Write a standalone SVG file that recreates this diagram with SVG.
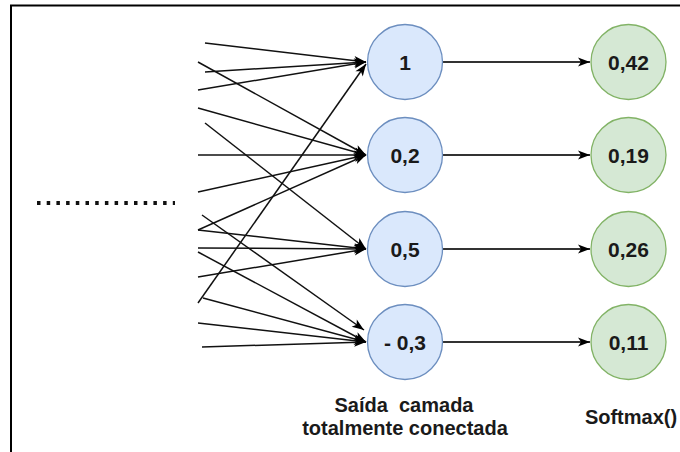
<svg xmlns="http://www.w3.org/2000/svg" width="680" height="452" viewBox="0 0 680 452">
<defs>
<style>
.in{stroke:#111;stroke-width:1.5;fill:none;marker-end:url(#a)}
.out{stroke:#333;stroke-width:1.8;fill:none;marker-end:url(#a)}
.b{fill:#dae8fc;stroke:#6c8ebf;stroke-width:1.3}
.g{fill:#d5e8d4;stroke:#82b366;stroke-width:1.3}
.t{font-family:"Liberation Sans",Arial,sans-serif;font-weight:bold;font-size:21px;fill:#1a1a1a;text-anchor:middle}
.l{font-family:"Liberation Sans",Arial,sans-serif;font-weight:bold;font-size:20px;fill:#1a1a1a;text-anchor:middle}
</style>
<marker id="a" markerUnits="userSpaceOnUse" markerWidth="14" markerHeight="12" viewBox="0 0 14 12" refX="13" refY="6" orient="auto">
<path d="M13,6 L1,1.5 L4,6 L1,10.5 Z" fill="#000"/>
</marker>
</defs>
<rect width="680" height="452" fill="#fff"/>
<path d="M11,452 V5.5 H680" fill="none" stroke="#000" stroke-width="2"/>
<line x1="37" y1="203" x2="175" y2="203" stroke="#111" stroke-width="4" stroke-dasharray="3.5 6.2"/>
<g id="connectors">
<line class="in" x1="205" y1="43" x2="366" y2="62"/>
<line class="in" x1="205" y1="72" x2="366" y2="62"/>
<line class="in" x1="198" y1="90" x2="366" y2="62"/>
<line class="in" x1="198" y1="303" x2="366" y2="64"/>
<line class="in" x1="198" y1="62" x2="366" y2="155"/>
<line class="in" x1="198" y1="108" x2="366" y2="155"/>
<line class="in" x1="198" y1="155" x2="366" y2="155"/>
<line class="in" x1="198" y1="192" x2="366" y2="155"/>
<line class="in" x1="198" y1="230" x2="366" y2="155"/>
<line class="in" x1="205" y1="123" x2="366" y2="249"/>
<line class="in" x1="198" y1="230" x2="366" y2="249"/>
<line class="in" x1="198" y1="248" x2="366" y2="249"/>
<line class="in" x1="198" y1="277" x2="366" y2="249"/>
<line class="in" x1="202" y1="215" x2="364" y2="330"/>
<line class="in" x1="198" y1="252" x2="366" y2="342"/>
<line class="in" x1="203" y1="298" x2="366" y2="342"/>
<line class="in" x1="198" y1="323" x2="366" y2="342"/>
<line class="in" x1="202" y1="347" x2="366" y2="342"/>
<line class="out" x1="442" y1="62" x2="590" y2="62"/>
<line class="out" x1="442" y1="155" x2="590" y2="155"/>
<line class="out" x1="442" y1="249" x2="590" y2="249"/>
<line class="out" x1="442" y1="342" x2="590" y2="342"/>
</g>
<g id="n1"><circle class="b" cx="405" cy="62" r="37.5"/><text class="t" x="405" y="70">1</text></g>
<g id="n2"><circle class="b" cx="405" cy="155" r="37.5"/><text class="t" x="405" y="163">0,2</text></g>
<g id="n3"><circle class="b" cx="405" cy="249" r="37.5"/><text class="t" x="405" y="257">0,5</text></g>
<g id="n4"><circle class="b" cx="405" cy="342" r="37.5"/><text class="t" x="405" y="350">- 0,3</text></g>
<g id="s1"><circle class="g" cx="628.5" cy="62" r="37.5"/><text class="t" x="628.5" y="70">0,42</text></g>
<g id="s2"><circle class="g" cx="628.5" cy="155" r="37.5"/><text class="t" x="628.5" y="163">0,19</text></g>
<g id="s3"><circle class="g" cx="628.5" cy="249" r="37.5"/><text class="t" x="628.5" y="257">0,26</text></g>
<g id="s4"><circle class="g" cx="628.5" cy="342" r="37.5"/><text class="t" x="628.5" y="350">0,11</text></g>
<g id="lbl1"><text class="l" x="404" y="412" xml:space="preserve">Saída  camada</text><text class="l" x="405" y="435">totalmente conectada</text></g>
<g id="lbl2"><text class="l" x="631" y="424">Softmax()</text></g>
</svg>
